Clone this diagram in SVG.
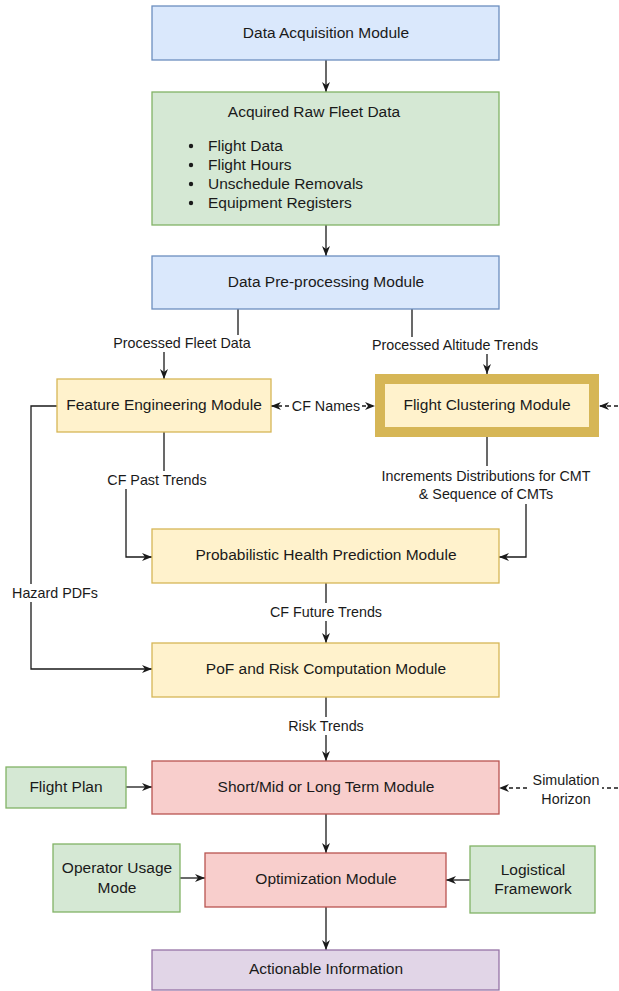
<svg xmlns="http://www.w3.org/2000/svg" width="619" height="991" viewBox="0 0 619 991">
<style>
text{font-family:"Liberation Sans",Arial,Helvetica,sans-serif;fill:#1a1a1a}
.t{font-size:15.5px;text-anchor:middle}
.bl{font-size:15.5px}
.lbl{font-size:14.3px;text-anchor:middle}
.blue{fill:#dae8fc;stroke:#6c8ebf;stroke-width:1.3}
.green{fill:#d5e8d4;stroke:#82b366;stroke-width:1.3}
.yellow{fill:#fff2cc;stroke:#d6b656;stroke-width:1.3}
.red{fill:#f8cecc;stroke:#b85450;stroke-width:1.3}
.purple{fill:#e1d5e7;stroke:#9673a6;stroke-width:1.3}
.e{fill:none;stroke:#1a1a1a;stroke-width:1.3;marker-end:url(#arr)}
.d{stroke-dasharray:4 3}
.bg{fill:#ffffff}
</style>
<defs>
<marker id="arr" markerUnits="userSpaceOnUse" markerWidth="11" markerHeight="9" refX="10" refY="4.5" orient="auto-start-reverse">
<path d="M0,0.5 L10,4.5 L0,8.5 L3,4.5 Z" fill="#1a1a1a"/>
</marker>
</defs>

<g id="connectors">
<path class="e" d="M326,60 V92"/>
<path class="e" d="M326,225 V256"/>
<path class="e" d="M238,309 V343 H164 V379"/>
<path class="e" d="M412,309 V345 H487 V374"/>
<path class="e d" d="M271,406 H375" marker-start="url(#arr)"/>
<path class="e d" d="M625,406 H599"/>
<path class="e" d="M164,432 V480 H126 V557 H152"/>
<path class="e" d="M487,437 V485 H526 V557 H499"/>
<path class="e" d="M57,406 H31 V669 H152"/>
<path class="e" d="M326,583 V643"/>
<path class="e" d="M326,697 V761"/>
<path class="e" d="M126,787 H152"/>
<path class="e d" d="M625,788 H499"/>
<path class="e" d="M326,814 V853"/>
<path class="e" d="M180,878 H205"/>
<path class="e" d="M470,880 H446"/>
<path class="e" d="M326,907 V950"/>

<rect class="bg" x="111" y="335" width="143" height="17"/>
<text class="lbl" x="182" y="348">Processed Fleet Data</text>
<rect class="bg" x="369" y="337" width="172" height="17"/>
<text class="lbl" x="455" y="350">Processed Altitude Trends</text>
<rect class="bg" x="292" y="397" width="69" height="18"/>
<text class="lbl" x="326" y="411">CF Names</text>
<rect class="bg" x="106" y="471" width="103" height="18"/>
<text class="lbl" x="157" y="485">CF Past Trends</text>
<rect class="bg" x="378" y="466" width="216" height="38"/>
<text class="lbl" x="486" y="481">Increments Distributions for CMT</text>
<text class="lbl" x="486" y="499">&amp; Sequence of CMTs</text>
<rect class="bg" x="10" y="584" width="91" height="18"/>
<text class="lbl" x="55" y="598">Hazard PDFs</text>
<rect class="bg" x="268" y="603" width="117" height="18"/>
<text class="lbl" x="326" y="617">CF Future Trends</text>
<rect class="bg" x="287" y="717" width="78" height="18"/>
<text class="lbl" x="326" y="731">Risk Trends</text>
<rect class="bg" x="530" y="770" width="72" height="38"/>
<text class="lbl" x="566" y="785">Simulation</text>
<text class="lbl" x="566" y="804">Horizon</text>
</g>

<g id="data-acquisition">
<rect class="blue" x="152" y="6" width="347" height="54"/>
<text class="t" x="326" y="38">Data Acquisition Module</text>
</g>
<g id="raw-fleet-data">
<rect class="green" x="152" y="92" width="347" height="133"/>
<text class="t" x="314" y="117">Acquired Raw Fleet Data</text>
<circle cx="191" cy="146" r="2.2" fill="#1a1a1a"/>
<circle cx="191" cy="165" r="2.2" fill="#1a1a1a"/>
<circle cx="191" cy="184" r="2.2" fill="#1a1a1a"/>
<circle cx="191" cy="203" r="2.2" fill="#1a1a1a"/>
<text class="bl" x="208" y="151">Flight Data</text>
<text class="bl" x="208" y="170">Flight Hours</text>
<text class="bl" x="208" y="189">Unschedule Removals</text>
<text class="bl" x="208" y="208">Equipment Registers</text>
</g>
<g id="pre-processing">
<rect class="blue" x="152" y="256" width="347" height="53"/>
<text class="t" x="326" y="287">Data Pre-processing Module</text>
</g>
<g id="feature-engineering">
<rect class="yellow" x="57" y="379" width="214" height="53"/>
<text class="t" x="164" y="410">Feature Engineering Module</text>
</g>
<g id="flight-clustering">
<rect x="380" y="379" width="214" height="53" fill="#fff2cc" stroke="#d6b656" stroke-width="10"/>
<text class="t" x="487" y="410">Flight Clustering Module</text>
</g>
<g id="health-prediction">
<rect class="yellow" x="152" y="529" width="347" height="54"/>
<text class="t" x="326" y="560">Probabilistic Health Prediction Module</text>
</g>
<g id="pof-risk">
<rect class="yellow" x="152" y="643" width="347" height="54"/>
<text class="t" x="326" y="674">PoF and Risk Computation Module</text>
</g>
<g id="term-module">
<rect class="red" x="152" y="761" width="347" height="53"/>
<text class="t" x="326" y="792">Short/Mid or Long Term Module</text>
</g>
<g id="flight-plan">
<rect class="green" x="6" y="767" width="120" height="41"/>
<text class="t" x="66" y="792">Flight Plan</text>
</g>
<g id="optimization">
<rect class="red" x="205" y="853" width="241" height="54"/>
<text class="t" x="326" y="884">Optimization Module</text>
</g>
<g id="operator-usage">
<rect class="green" x="53" y="844" width="127" height="68"/>
<text class="t" x="117" y="873">Operator Usage</text>
<text class="t" x="117" y="893">Mode</text>
</g>
<g id="logistical">
<rect class="green" x="470" y="846" width="125" height="67"/>
<text class="t" x="533" y="875">Logistical</text>
<text class="t" x="533" y="894">Framework</text>
</g>
<g id="actionable">
<rect class="purple" x="152" y="950" width="347" height="40"/>
<text class="t" x="326" y="974">Actionable Information</text>
</g>
</svg>
